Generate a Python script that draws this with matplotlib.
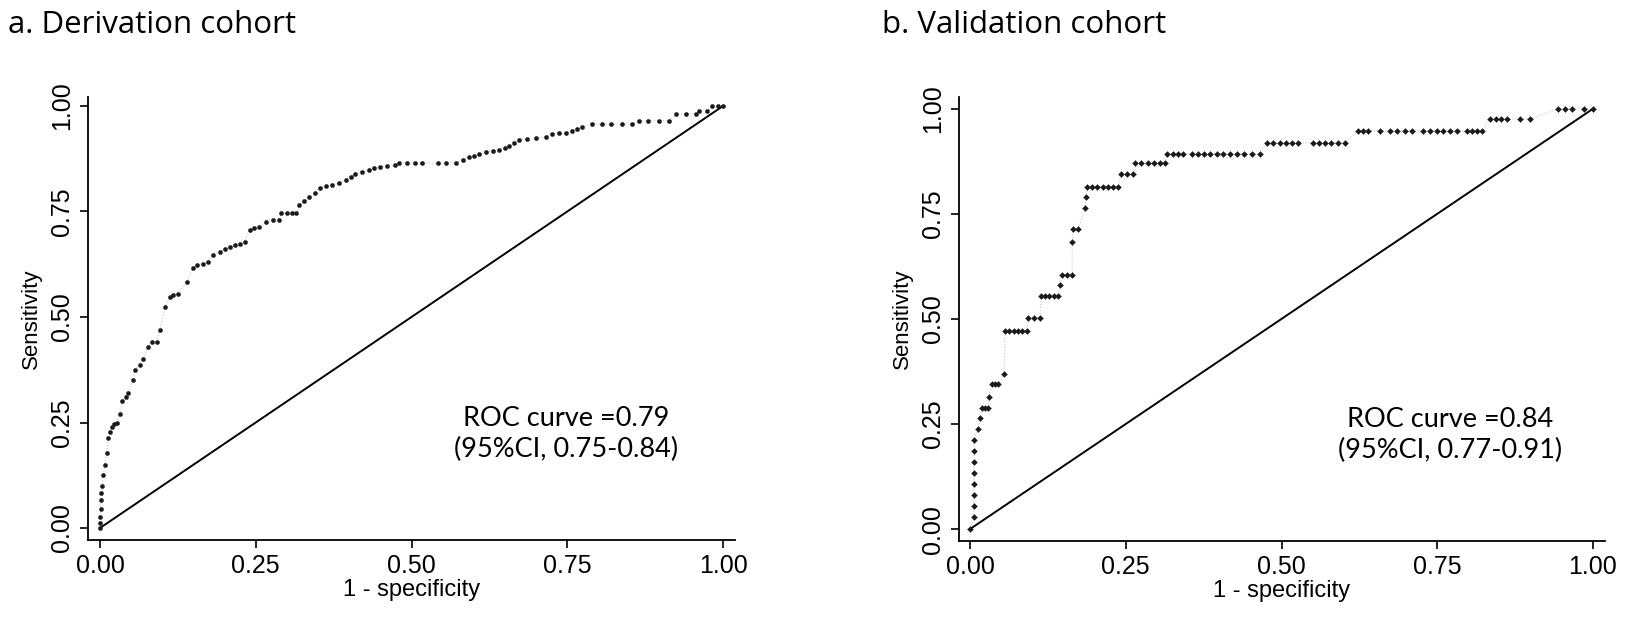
import matplotlib
matplotlib.use("Agg")
import matplotlib.pyplot as plt

# ---------------- data ----------------
deriv_fpr = [0.000, 0.000, 0.000, 0.001, 0.001, 0.002, 0.004, 0.005, 0.008, 0.011,
             0.013, 0.016, 0.019, 0.023, 0.027, 0.032, 0.036, 0.041, 0.045, 0.053,
             0.056, 0.064, 0.069, 0.077, 0.084, 0.091, 0.096, 0.104, 0.112, 0.118,
             0.125, 0.139, 0.149, 0.155, 0.165, 0.173, 0.181, 0.192, 0.200, 0.208,
             0.216, 0.224, 0.232, 0.240, 0.248, 0.256, 0.267, 0.277, 0.288, 0.291,
             0.300, 0.308, 0.315, 0.320, 0.328, 0.336, 0.345, 0.353, 0.363, 0.373,
             0.384, 0.395, 0.403, 0.410, 0.421, 0.432, 0.440, 0.449, 0.461, 0.473,
             0.480, 0.492, 0.505, 0.517, 0.542, 0.555, 0.572, 0.582, 0.593, 0.601,
             0.609, 0.620, 0.631, 0.641, 0.650, 0.657, 0.665, 0.673, 0.686, 0.700,
             0.716, 0.726, 0.737, 0.748, 0.758, 0.766, 0.774, 0.790, 0.805, 0.820,
             0.838, 0.854, 0.865, 0.880, 0.897, 0.913, 0.925, 0.940, 0.957, 0.962,
             0.975, 0.982, 0.992, 1.000]
deriv_tpr = [0.000, 0.013, 0.026, 0.045, 0.066, 0.083, 0.100, 0.125, 0.150, 0.178,
             0.213, 0.228, 0.240, 0.246, 0.250, 0.270, 0.300, 0.310, 0.320, 0.350,
             0.374, 0.386, 0.400, 0.430, 0.440, 0.440, 0.470, 0.524, 0.547, 0.553,
             0.555, 0.583, 0.616, 0.623, 0.626, 0.630, 0.647, 0.654, 0.660, 0.666,
             0.670, 0.674, 0.678, 0.706, 0.710, 0.713, 0.725, 0.730, 0.730, 0.746,
             0.746, 0.746, 0.746, 0.765, 0.775, 0.784, 0.795, 0.806, 0.810, 0.813,
             0.818, 0.825, 0.832, 0.840, 0.844, 0.848, 0.852, 0.855, 0.858, 0.860,
             0.865, 0.865, 0.865, 0.865, 0.865, 0.865, 0.865, 0.872, 0.879, 0.882,
             0.886, 0.890, 0.893, 0.896, 0.900, 0.906, 0.913, 0.920, 0.922, 0.923,
             0.927, 0.934, 0.935, 0.936, 0.941, 0.945, 0.950, 0.957, 0.957, 0.957,
             0.957, 0.957, 0.965, 0.965, 0.965, 0.965, 0.981, 0.981, 0.981, 0.988,
             0.988, 1.000, 1.000, 1.000]

valid_fpr = [0.000, 0.006, 0.006, 0.006, 0.006, 0.006, 0.006, 0.006, 0.006, 0.013,
             0.016, 0.019, 0.024, 0.029, 0.030, 0.035, 0.040, 0.045, 0.055, 0.056,
             0.063, 0.070, 0.077, 0.084, 0.091, 0.093, 0.102, 0.112, 0.114, 0.120,
             0.127, 0.134, 0.141, 0.144, 0.148, 0.156, 0.164, 0.164, 0.165, 0.173,
             0.185, 0.186, 0.188, 0.196, 0.204, 0.214, 0.222, 0.230, 0.238, 0.242,
             0.252, 0.262, 0.265, 0.275, 0.285, 0.295, 0.305, 0.313, 0.316, 0.326,
             0.334, 0.342, 0.356, 0.366, 0.376, 0.386, 0.396, 0.406, 0.417, 0.428,
             0.440, 0.452, 0.465, 0.477, 0.487, 0.497, 0.507, 0.517, 0.527, 0.550,
             0.560, 0.570, 0.580, 0.591, 0.602, 0.623, 0.631, 0.639, 0.658, 0.674,
             0.686, 0.698, 0.710, 0.727, 0.738, 0.749, 0.760, 0.771, 0.782, 0.798,
             0.806, 0.814, 0.822, 0.835, 0.844, 0.853, 0.862, 0.883, 0.899, 0.944,
             0.955, 0.966, 0.985, 1.000]
valid_tpr = [0.000, 0.028, 0.054, 0.080, 0.107, 0.133, 0.159, 0.185, 0.211, 0.239,
             0.265, 0.289, 0.289, 0.289, 0.315, 0.344, 0.344, 0.344, 0.370, 0.472,
             0.472, 0.472, 0.472, 0.472, 0.472, 0.502, 0.502, 0.502, 0.555, 0.555,
             0.555, 0.555, 0.555, 0.580, 0.604, 0.604, 0.604, 0.683, 0.713, 0.713,
             0.763, 0.789, 0.815, 0.815, 0.815, 0.815, 0.815, 0.815, 0.815, 0.844,
             0.844, 0.844, 0.870, 0.870, 0.870, 0.870, 0.870, 0.870, 0.893, 0.893,
             0.893, 0.893, 0.893, 0.893, 0.893, 0.893, 0.893, 0.893, 0.893, 0.893,
             0.893, 0.893, 0.893, 0.919, 0.919, 0.919, 0.919, 0.919, 0.919, 0.919,
             0.919, 0.919, 0.919, 0.919, 0.919, 0.948, 0.948, 0.948, 0.948, 0.948,
             0.948, 0.948, 0.948, 0.948, 0.948, 0.948, 0.948, 0.948, 0.948, 0.948,
             0.948, 0.948, 0.948, 0.976, 0.976, 0.976, 0.976, 0.976, 0.976, 1.000,
             1.000, 1.000, 1.000, 1.000]

tick_vals = [0.0, 0.25, 0.5, 0.75, 1.0]
tick_labels = ["0.00", "0.25", "0.50", "0.75", "1.00"]
panel_titles = ["a. Derivation cohort", "b. Validation cohort"]
roc_texts = ["ROC curve =0.79\n(95%CI, 0.75-0.84)", "ROC curve =0.84\n(95%CI, 0.77-0.91)"]

# ---------------- figure ----------------
W, H = 1650, 636
fig = plt.figure(figsize=(W / 100, H / 100), dpi=100)

tick_font = "Liberation Sans"
text_font = "Lato"
title_font = "Open Sans"

def make_axes(left_px, right_px, top_px, bottom_px):
    return fig.add_axes([left_px / W, 1 - bottom_px / H,
                         (right_px - left_px) / W, (bottom_px - top_px) / H])

axes = [make_axes(88, 735, 97, 540), make_axes(959, 1605, 97, 541)]
xlims = [(-0.0192, 1.0192), (-0.0177, 1.0193)]
ylims = [(-0.0284, 1.0213), (-0.0284, 1.028)]
series = [(deriv_fpr, deriv_tpr, "o", 3.0), (valid_fpr, valid_tpr, "D", 3.0)]
text_pos = [(0.748, 0.222), (0.770, 0.224)]

for i, ax in enumerate(axes):
    fpr, tpr, mk, ms = series[i]
    ax.plot([0, 1], [0, 1], color="black", lw=1.4, zorder=2)
    ax.plot(fpr, tpr, color="#c8c8c8", lw=0.8, ls=":", zorder=3)
    ax.plot(fpr, tpr, ls="none", marker=mk, ms=ms, mfc="#1a1a1a", mec="#1a1a1a",
            mew=0.3, zorder=4)
    ax.set_xlim(*xlims[i])
    ax.set_ylim(*ylims[i])
    ax.spines["top"].set_visible(False)
    ax.spines["right"].set_visible(False)
    ax.spines["left"].set_linewidth(1.3)
    ax.spines["bottom"].set_linewidth(1.3)
    ax.set_xticks(tick_vals)
    ax.set_xticklabels(tick_labels, fontfamily=tick_font, fontsize=18)
    ax.set_yticks(tick_vals)
    ax.set_yticklabels(tick_labels, fontfamily=tick_font, fontsize=18,
                       rotation=90, va="center")
    ax.tick_params(axis="both", direction="out", length=6, width=1.2, pad=4)
    ax.set_xlabel("1 - specificity", fontfamily=tick_font, fontsize=17, labelpad=1)
    ax.set_ylabel("Sensitivity", fontfamily=tick_font, fontsize=16, labelpad=6)
    ax.text(text_pos[i][0], text_pos[i][1], roc_texts[i], ha="center", va="center",
            fontfamily=text_font, fontsize=19.5, linespacing=1.3)

fig.text(8 / W, 1 - 25 / H, panel_titles[0], ha="left", va="center",
         fontfamily=title_font, fontsize=22.5)
fig.text(882 / W, 1 - 25 / H, panel_titles[1], ha="left", va="center",
         fontfamily=title_font, fontsize=22.5)

fig.savefig("out.png", dpi=100, facecolor="white")
